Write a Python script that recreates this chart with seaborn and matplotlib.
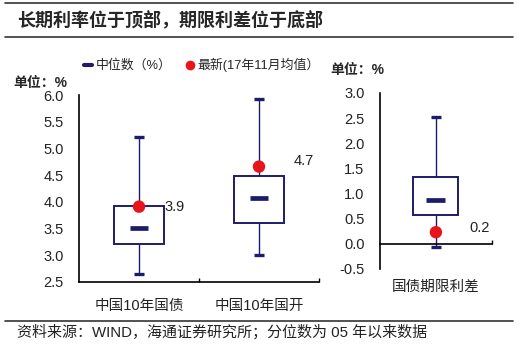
import numpy as np
import pandas as pd
import matplotlib.pyplot as plt
import seaborn as sns
from matplotlib.lines import Line2D
from matplotlib.ticker import FormatStrFormatter, FixedLocator

sns.set_theme(style='white')
plt.rcParams['font.family'] = ['Liberation Sans', 'Noto Sans CJK SC', 'DejaVu Sans']

# box statistics (%)
bond_names = ['中国10年国债', '中国10年国开']
bond_min = [2.64, 3.00]
bond_q1 = [3.21, 3.61]
bond_median = [3.51, 4.07]
bond_q3 = [3.92, 4.49]
bond_max = [5.21, 5.92]
bond_latest = [3.91, 4.66]

spread_names = ['国债期限利差']
spread_min = [-0.06]
spread_q1 = [0.57]
spread_median = [0.87]
spread_q3 = [1.33]
spread_max = [2.52]
spread_latest = [0.23]

navy = '#1C1C6B'
red = '#E8141B'


def long_table(names, mins, q1s, meds, q3s, maxs):
    # five points per category -> seaborn quartiles land exactly on q1 / median / q3
    rows = []
    for i, name in enumerate(names):
        for v in [mins[i], q1s[i], meds[i], q3s[i], maxs[i]]:
            rows.append({'name': name, 'value': v})
    return pd.DataFrame(rows)


def draw_box(ax, names, mins, q1s, meds, q3s, maxs, latest, width, med_half, cap_half, offsets):
    df = long_table(names, mins, q1s, meds, q3s, maxs)
    sns.boxplot(data=df, x='name', y='value', ax=ax, whis=(0, 100), width=width,
                color='white', linecolor=navy, linewidth=1.3, showcaps=False,
                medianprops={'visible': False},
                whiskerprops={'linewidth': 1.0, 'color': navy},
                boxprops={'facecolor': 'white', 'edgecolor': navy, 'linewidth': 1.4})
    pos = np.arange(len(names))
    ax.hlines(meds, pos - med_half, pos + med_half, color=navy, lw=3.4, zorder=4)
    ax.hlines(mins, pos - cap_half, pos + cap_half, color=navy, lw=2.4, zorder=4)
    ax.hlines(maxs, pos - cap_half, pos + cap_half, color=navy, lw=2.4, zorder=4)
    sns.scatterplot(x=pos, y=latest, ax=ax, color=red, s=80, edgecolor='none', zorder=6,
                    legend=False)
    for i, v in enumerate(latest):
        ax.annotate(f'{v:.1f}', (pos[i], v), xytext=offsets[i], textcoords='offset points',
                    va='center', ha='left', fontsize=10.5, color='#222222')


fig = plt.figure(figsize=(5.24, 3.52), dpi=100)

# left panel: long rates
ax1 = fig.add_axes([0.1508, 0.199, 0.458, 0.531])
draw_box(ax1, bond_names, bond_min, bond_q1, bond_median, bond_q3, bond_max, bond_latest,
         width=0.42, med_half=0.078, cap_half=0.04, offsets=[(18, 0), (25, 4)])
ax1.set_ylim(2.5, 6.0)
ax1.set_xlim(-0.5, 1.5)
ax1.set_yticks(np.arange(2.5, 6.01, 0.5))
ax1.yaxis.set_major_formatter(FormatStrFormatter('%.1f'))
ax1.xaxis.set_minor_locator(FixedLocator([0.5, 1.5]))

# right panel: term spread
ax2 = fig.add_axes([0.725, 0.236, 0.2137, 0.500])
draw_box(ax2, spread_names, spread_min, spread_q1, spread_median, spread_q3, spread_max,
         spread_latest, width=0.40, med_half=0.085, cap_half=0.048, offsets=[(24, 3)])
ax2.set_ylim(-0.5, 3.0)
ax2.set_xlim(-0.5, 0.5)
ax2.set_yticks(np.arange(-0.5, 3.01, 0.5))
ax2.yaxis.set_major_formatter(FormatStrFormatter('%.1f'))
ax2.xaxis.set_minor_locator(FixedLocator([0.5]))
ax2.spines['bottom'].set_position(('data', 0))
ax2.set_xticklabels([])
ax2.text(0, -0.10, spread_names[0], transform=ax2.get_xaxis_transform(),
         ha='center', va='center', fontsize=10.5, color='#222222')

for ax in (ax1, ax2):
    ax.set_xlabel('')
    ax.set_ylabel('')
    for side in ('top', 'right'):
        ax.spines[side].set_visible(False)
    for side in ('left', 'bottom'):
        ax.spines[side].set_color('black')
        ax.spines[side].set_linewidth(1.2)
    ax.tick_params(axis='y', which='major', direction='in', length=3, width=1,
                   color='black', pad=11, labelsize=10.5, labelcolor='#222222')
    ax.tick_params(axis='x', which='major', length=0, pad=12, labelsize=10.5,
                   labelcolor='#222222')
    ax.tick_params(axis='x', which='minor', direction='in', length=3, width=1,
                   color='black', bottom=True)

# unit labels
fig.text(13 / 524, 1 - 83 / 352, '单位：%', fontsize=10, fontweight='bold', va='center')
fig.text(330 / 524, 1 - 70 / 352, '单位：%', fontsize=10, fontweight='bold', va='center')

# legend
handles = [Line2D([0], [0], color=navy, lw=3),
           Line2D([0], [0], color=red, marker='o', lw=0, markersize=7, markeredgewidth=0)]
fig.legend(handles, ['中位数（%）', '最新(17年11月均值）'], loc='center left',
           bbox_to_anchor=(84 / 524, 1 - 65 / 352), ncol=2, frameon=False, fontsize=9.3,
           handlelength=0.6, handletextpad=0.3, columnspacing=1.1, borderpad=0,
           borderaxespad=0)

# title and footer with rules
fig.text(17 / 524, 1 - 20 / 352, '长期利率位于顶部，期限利差位于底部', fontsize=13,
         fontweight='bold', va='center')
for yy in (3, 37, 321):
    fig.add_artist(Line2D([5 / 524, 513 / 524], [1 - yy / 352, 1 - yy / 352],
                          color='#333333', lw=1.2))
fig.text(17 / 524, 1 - 332 / 352, '资料来源：WIND，海通证券研究所；分位数为 05 年以来数据',
         fontsize=10.8, va='center', color='#222222')

fig.savefig('out.png', dpi=100)
